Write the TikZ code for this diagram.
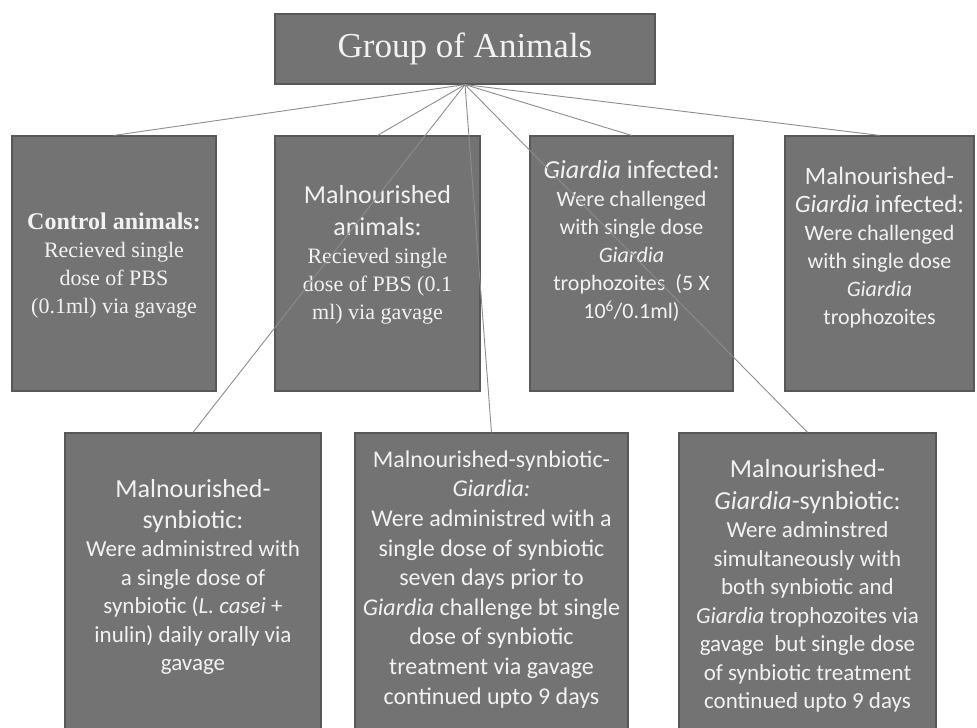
\documentclass[tikz,border=0pt]{standalone}
\usepackage{fontspec}
\setmainfont{Carlito}
\newfontfamily\timesfont{Liberation Serif}

\definecolor{boxfill}{RGB}{115,115,115}
\definecolor{boxline}{RGB}{88,88,88}
\definecolor{linkcol}{RGB}{140,140,140}
\definecolor{boxtext}{RGB}{242,242,242}

\tikzset{
  box/.style = {draw=boxline, fill=boxfill, line width=1.2pt, inner sep=0pt},
  boxtxt/.style = {text=boxtext, align=center, inner sep=0pt, anchor=north,
                   font=\fontsize{22}{28}\selectfont},
  link/.style = {draw=linkcol, line width=0.9pt}
}

\begin{document}
\begin{tikzpicture}[x=1pt, y=-1pt]
  \useasboundingbox (0,0) rectangle (977,728);
  \clip (0,0) rectangle (977,728);

  % Wurzel
  \node[box, minimum width=380pt, minimum height=70pt] (root) at (465,49)
    {\timesfont\fontsize{35}{40}\selectfont\color{boxtext}Group of Animals};

  % zweite Reihe
  \node[box, minimum width=204pt, minimum height=255pt] (ctrl) at (114,263.5) {};
  \node[box, minimum width=205pt, minimum height=255pt] (maln) at (377.5,263.5) {};
  \node[box, minimum width=203pt, minimum height=255pt] (giar) at (631.5,263.5) {};
  \node[box, minimum width=189pt, minimum height=255pt] (mgia) at (879.5,263.5) {};

  % dritte Reihe
  \node[box, minimum width=256pt, minimum height=320pt] (msyn) at (193,593) {};
  \node[box, minimum width=273pt, minimum height=320pt] (msg) at (491.5,593) {};
  \node[box, minimum width=257pt, minimum height=320pt] (mgs) at (807.5,593) {};

  % Texte
  \node[boxtxt] (ctrl-t) at ([yshift=-77pt]ctrl.north)
    {\timesfont{\fontsize{24}{28}\selectfont\textbf{Control animals:}}\\
     \timesfont Recieved single\\ \timesfont dose of PBS\\ \timesfont (0.1ml) via gavage};
  \node[boxtxt] (maln-t) at ([yshift=-50pt]maln.north)
    {{\fontsize{26}{30}\selectfont Malnourished}\\[4pt]
     {\fontsize{26}{30}\selectfont animals:}\\
     \timesfont Recieved single\\ \timesfont dose of PBS (0.1\\ \timesfont ml) via gavage};
  \node[boxtxt] (giar-t) at ([yshift=-25pt]giar.north)
    {{\fontsize{26}{30}\selectfont\textit{Giardia} infected:}\\
     Were challenged\\ with single dose\\ \textit{Giardia}\\
     trophozoites~ (5 X\\ 10\textsuperscript{6}/0.1ml)};
  \node[boxtxt] (mgia-t) at ([yshift=-32pt]mgia.north)
    {{\fontsize{25}{30}\selectfont Malnourished-}\\
     {\fontsize{25}{30}\selectfont\textit{Giardia} infected:}\\
     Were challenged\\ with single dose\\ \textit{Giardia}\\ trophozoites};
  \node[boxtxt, font=\fontsize{23}{28.5}\selectfont] (msyn-t) at ([yshift=-47pt]msyn.north)
    {{\fontsize{26}{30}\selectfont Malnourished-}\\[2pt]
     {\fontsize{26}{30}\selectfont synbiotic:}\\
     Were administred with\\ a single dose of\\
     synbiotic (\textit{L. casei} +\\ inulin) daily orally via\\ gavage};
  \node[boxtxt, font=\fontsize{24}{29.6}\selectfont] (msg-t) at ([yshift=-18pt]msg.north)
    {Malnourished-synbiotic-\\ \textit{Giardia:}\\
     Were administred with a\\ single dose of synbiotic\\ seven days prior to\\
     \textit{Giardia} challenge bt single\\ dose of synbiotic\\
     treatment via gavage\\ continued upto 9 days};
  \node[boxtxt, font=\fontsize{23}{28.5}\selectfont] (mgs-t) at ([yshift=-27pt]mgs.north)
    {{\fontsize{26}{30}\selectfont Malnourished-}\\[3pt]
     {\fontsize{26}{30}\selectfont\textit{Giardia}-synbiotic:}\\
     Were adminstred\\ simultaneously with\\ both synbiotic and\\
     \textit{Giardia} trophozoites via\\ gavage~ but single dose\\
     of synbiotic treatment\\ continued upto 9 days};

  % Verbindungen
  \foreach \n in {ctrl, maln, giar, mgia, msyn, msg, mgs}
    \draw[link] (root.south) -- (\n.north);
\end{tikzpicture}
\end{document}
